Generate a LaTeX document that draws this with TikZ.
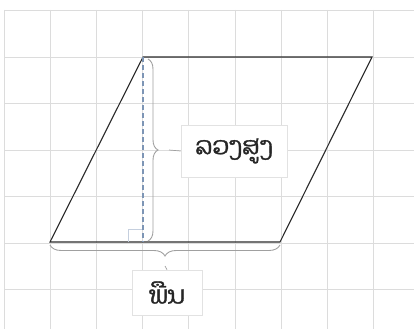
\documentclass[tikz,border=0pt]{standalone}
\usepackage{fontspec}
\newfontfamily\laofont[Script=Lao, AutoFakeBold=1.2]{Dhyana}
\usetikzlibrary{decorations.pathreplacing}
\definecolor{gridc}{HTML}{DCDCDC}
\definecolor{shapec}{HTML}{2A2A2A}
\definecolor{bracec}{HTML}{A0A0A0}
\definecolor{dashc}{HTML}{7D95B5}
\definecolor{boxc}{HTML}{E2E2E2}
\tikzset{
  gridline/.style={draw=gridc, line width=0.9pt},
  pgram/.style={draw=shapec, line width=1.1pt, line join=miter},
  bracedeco/.style={draw=bracec, line width=0.9pt, decorate, decoration={brace, amplitude=#1, aspect=0.5}},
  lbl/.style={draw=boxc, fill=white, line width=0.7pt, font=\laofont\bfseries\fontsize{24.5}{28}\selectfont, text=black!85, inner sep=0pt},
  heightline/.style={draw=dashc, line width=1.1pt, dash pattern=on 5pt off 3pt},
  rightmark/.style={draw=dashc!45, line width=0.7pt},
  leader/.style={draw=bracec, line width=0.7pt}
}
\begin{document}
\begin{tikzpicture}[x=1pt, y=-1pt]
\useasboundingbox (0,0) rectangle (414,329);
% grid
\foreach \gx in {4,50.2,96.4,142.6,188.8,235,281.2,327.4,373.6}
  \draw[gridline] (\gx,10) -- (\gx,329);
\foreach \gy in {10.5,57,103.5,150,196.5,243,289.5}
  \draw[gridline] (4,\gy) -- (414,\gy);
% parallelogram
\coordinate (tl) at (143,57);
\coordinate (tr) at (372,57);
\coordinate (br) at (280,242);
\coordinate (bl) at (50,242);
\coordinate (foot) at (143,242);
\draw[pgram] (tl) -- (tr) -- (br) -- (bl) -- cycle;
% height
\draw[rightmark] (128,242) -- (128,229) -- (143,229);
\draw[heightline] (tl) -- (foot);
% braces
\draw[bracedeco=10] (148,59) -- (148,241);
\draw[bracedeco=11] (280,245) -- (50,245);
% labels
\node[lbl, minimum width=106pt, minimum height=52pt] (h) at (234,151) {ລວງສູງ};
\node[lbl, minimum width=70pt, minimum height=45pt] (b) at (167,292.5) {ພືນ};
\coordinate (htip) at (169,150);
\coordinate (btip) at (165,266);
\draw[leader] (htip) -- (h.west);
\draw[leader] (btip) -- (b.north);
\end{tikzpicture}
\end{document}
